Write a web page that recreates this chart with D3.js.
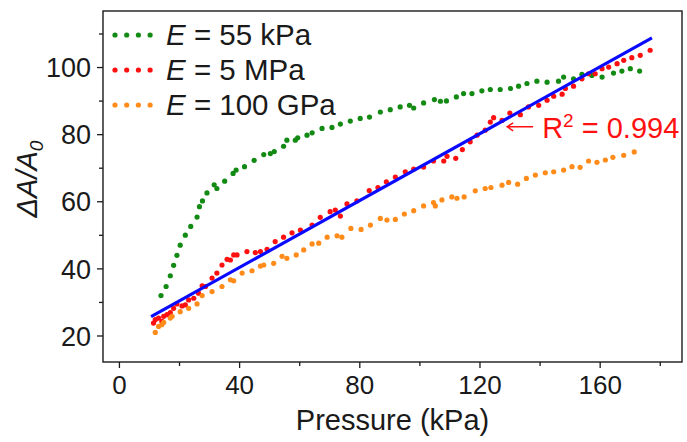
<!DOCTYPE html>
<html>
<head>
<meta charset="utf-8">
<script src="https://cdn.jsdelivr.net/npm/d3@7"></script>
<style>
body { margin: 0; background: #fff; }
text { font-family: Arial, "Liberation Sans", sans-serif; fill: #1a1a1a; }
</style>
</head>
<body>
<svg id="chart" width="687" height="442"></svg>
<script>

// E = 55 kPa
var greenP = [14.0,15.7,17.1,18.2,19.3,20.4,22.1,23.9,26.0,26.8,27.8,29.3,31.7,32.6,35.2,38.0,39.0,41.8,45.0,48.2,50.4,51.7,54.8,55.9,58.7,59.5,62.6,64.3,67.6,70.9,73.7,77.0,80.3,83.4,87.0,90.3,93.6,96.7,98.1,101.4,105.0,107.0,109.0,112.3,114.7,117.5,120.8,123.6,126.9,130.3,133.0,135.8,139.1,142.5,146.3,148.0,151.3,154.1,157.4,160.8,164.6,167.4,170.2,173.3];
var greenV = [31.9,34.6,37.8,40.9,43.9,46.9,49.9,52.5,55.3,58.4,60.1,62.5,64.9,63.8,66.0,68.3,69.3,70.3,72.2,73.9,74.2,74.8,76.4,78.2,78.2,78.9,79.7,80.4,81.7,82.0,83.0,83.9,84.7,85.1,86.6,87.3,88.1,88.6,87.8,89.3,90.3,89.8,89.9,91.1,92.1,92.1,92.9,93.3,93.3,93.6,94.3,95.1,95.8,95.5,95.8,97.0,96.5,97.8,97.5,97.0,98.2,98.8,99.5,98.8];

// E = 5 MPa
var redP = [11.5,12.1,13.2,14.3,14.9,16.0,17.1,18.2,19.3,21.0,22.1,23.2,24.9,26.5,27.7,28.8,31.0,32.6,34.3,36.0,37.1,38.2,39.3,42.6,45.4,47.1,49.3,52.0,54.8,57.6,60.4,64.3,67.0,70.3,72.0,73.7,75.9,79.2,83.3,86.2,89.0,92.0,95.3,98.1,101.4,104.7,108.1,109.2,112.1,114.3,116.9,119.2,121.9,123.6,124.7,127.5,130.1,133.6,136.3,139.7,142.5,144.7,147.5,148.6,151.3,154.1,156.3,158.5,160.8,163.0,165.8,168.0,170.7,173.5,176.8];
var redV = [23.7,24.7,25.2,24.2,25.7,26.2,26.8,28.1,29.4,28.8,29.1,30.6,31.1,32.6,34.8,34.6,37.1,38.6,41.0,42.7,42.5,44.0,44.0,45.0,44.7,45.0,45.7,48.0,49.3,50.6,51.4,52.9,55.2,56.9,57.4,55.6,59.2,60.1,63.2,64.1,65.8,67.2,68.8,69.6,70.2,72.0,72.0,73.4,72.8,75.4,77.7,79.7,81.2,83.6,84.9,84.1,86.3,85.8,88.1,88.6,90.1,91.3,91.9,93.6,94.3,96.5,98.0,98.0,99.5,100.0,101.0,102.0,102.8,103.5,105.0];

// E = 100 GPa
var orangeP = [12.1,13.2,14.3,14.9,17.1,17.7,20.4,23.2,26.0,27.7,31.0,34.3,37.1,38.2,41.0,44.3,47.1,48.2,51.5,54.3,55.9,59.0,61.5,64.3,66.5,69.3,72.6,74.2,77.2,80.6,83.7,87.0,89.2,92.0,95.0,98.1,101.4,104.7,105.3,107.5,110.8,112.5,114.9,118.6,121.9,123.8,127.5,129.7,132.7,135.6,138.6,141.9,144.7,148.0,150.8,153.5,156.3,159.1,161.9,164.4,168.0,171.5];
var orangeV = [20.9,22.7,23.2,23.9,25.2,25.7,27.1,28.1,29.4,31.9,33.1,34.6,36.6,36.3,38.6,39.3,40.7,41.0,41.5,43.6,43.0,44.0,45.5,47.3,47.5,49.3,49.7,49.3,51.9,51.6,52.9,54.9,54.4,54.6,56.2,57.2,58.6,59.6,58.6,60.4,61.3,60.9,61.3,63.1,63.8,64.1,64.8,65.6,65.1,66.8,67.8,68.5,68.8,69.3,70.3,70.1,72.0,71.6,72.3,73.1,73.7,74.7];

// linear fit of 5 MPa data
var fitP = [10.7, 177.4];
var fitV = [25.6, 108.7];

var xTicks = [0,20,40,60,80,100,120,140,160,180];
var yTicks = [20,30,40,50,60,70,80,90,100,110];

var seriesNames = ["55 kPa", "5 MPa", "100 GPa"];
var seriesColors = ["#138a13", "#ff1010", "#ff8c1a"];

var svg = d3.select("#chart");

var pLeft = 103, pTop = 11, pRight = 682, pBottom = 362;

var x = d3.scaleLinear().domain([-5.3, 187.4]).range([pLeft, pRight]);
var y = d3.scaleLinear().domain([12.1, 116.7]).range([pBottom, pTop]);

// frame
svg.append("rect")
    .attr("x", pLeft).attr("y", pTop)
    .attr("width", pRight - pLeft).attr("height", pBottom - pTop)
    .attr("fill", "none").attr("stroke", "#1a1a1a").attr("stroke-width", 1.4);

// x axis
var xAxis = svg.append("g")
    .attr("transform", "translate(0," + pBottom + ")")
    .call(d3.axisBottom(x).tickValues(xTicks)
        .tickSize(0).tickPadding(0).tickFormat(""));
xAxis.select(".domain").remove();
xAxis.selectAll(".tick line")
    .attr("y2", function(d) { return d % 40 == 0 ? 6 : 4; })
    .attr("stroke", "#1a1a1a").attr("stroke-width", 1.3);
xAxis.selectAll(".tick").filter(function(d) { return d % 40 == 0; })
    .append("text")
    .attr("y", 32)
    .attr("text-anchor", "middle")
    .style("font-size", "26px")
    .text(function(d) { return d; });

// y axis
var yAxis = svg.append("g")
    .attr("transform", "translate(" + pLeft + ",0)")
    .call(d3.axisLeft(y).tickValues(yTicks)
        .tickSize(0).tickPadding(0).tickFormat(""));
yAxis.select(".domain").remove();
yAxis.selectAll(".tick line")
    .attr("x2", function(d) { return d % 20 == 0 ? -6 : -4; })
    .attr("stroke", "#1a1a1a").attr("stroke-width", 1.3);
yAxis.selectAll(".tick").filter(function(d) { return d % 20 == 0; })
    .append("text")
    .attr("x", -12)
    .attr("dy", "0.36em")
    .attr("text-anchor", "end")
    .style("font-size", "27px")
    .text(function(d) { return d; });

// axis titles
svg.append("text")
    .attr("x", (pLeft + pRight) / 2)
    .attr("y", 430)
    .attr("text-anchor", "middle")
    .style("font-size", "29px")
    .text("Pressure (kPa)");

var yt = svg.append("text")
    .attr("transform", "translate(37," + 179 + ") rotate(-90)")
    .attr("text-anchor", "middle")
    .style("font-size", "29px")
    .style("font-style", "italic");
yt.append("tspan").text("ΔA/A");
yt.append("tspan").attr("dy", 6).style("font-size", "19px").text("0");

// data
function dots(P, V, col) {
  svg.append("g").selectAll("circle")
      .data(P)
    .enter().append("circle")
      .attr("cx", function(d) { return x(d); })
      .attr("cy", function(d, i) { return y(V[i]); })
      .attr("r", 2.6)
      .attr("fill", col);
}
dots(greenP, greenV, seriesColors[0]);
dots(redP, redV, seriesColors[1]);
dots(orangeP, orangeV, seriesColors[2]);

// fit line
svg.append("line")
    .attr("x1", x(fitP[0])).attr("y1", y(fitV[0]))
    .attr("x2", x(fitP[1])).attr("y2", y(fitV[1]))
    .attr("stroke", "#0a0aff").attr("stroke-width", 3.2);

// R^2 note
var ax = x(129.2), ay = y(82.2);
svg.append("path")
    .attr("d", "M" + (ax + 26) + "," + ay + "H" + ax + "M" + (ax + 6) + "," + (ay - 4) + "L" + ax + "," + ay + "L" + (ax + 6) + "," + (ay + 4))
    .attr("fill", "none").attr("stroke", "#ff1010").attr("stroke-width", 1.5);
var rt = svg.append("text")
    .attr("x", ax + 35).attr("y", ay + 11)
    .style("font-size", "29px")
    .style("fill", "#ff1010");
rt.append("tspan").text("R");
rt.append("tspan").attr("dy", -11).style("font-size", "19px").text("2");
rt.append("tspan").attr("dy", 11).text(" = 0.994");

// legend
var leg = svg.append("g");
seriesNames.forEach(function(n, i) {
  var ly = 35 + i * 35;
  leg.selectAll(null).data([0,1,2,3]).enter().append("circle")
      .attr("cx", function(d) { return 115 + d * 11.7; })
      .attr("cy", ly)
      .attr("r", 2.6)
      .attr("fill", seriesColors[i]);
  var t = leg.append("text")
      .attr("x", 166).attr("y", ly + 10)
      .style("font-size", "29.5px");
  t.append("tspan").style("font-style", "italic").text("E");
  t.append("tspan").text(" = " + n);
});

</script>
</body>
</html>
